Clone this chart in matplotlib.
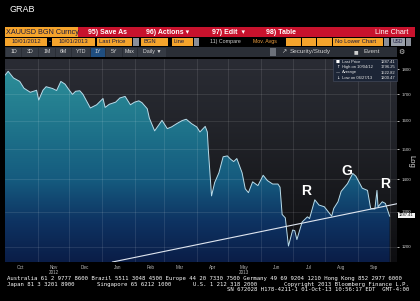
import matplotlib
matplotlib.use('Agg')
import matplotlib.pyplot as plt
import matplotlib.dates as mdates
from matplotlib.patches import Rectangle, PathPatch
from matplotlib.path import Path
from matplotlib.colors import LinearSegmentedColormap
from matplotlib.ticker import NullLocator
import numpy as np
import pandas as pd

plt.rcParams['font.family'] = ['Liberation Sans', 'DejaVu Sans']

# ---------------- data ----------------
dates = ['2012-10-01', '2012-10-04', '2012-10-09', '2012-10-15', '2012-10-19', '2012-10-25',
         '2012-10-31', '2012-11-02', '2012-11-06', '2012-11-09', '2012-11-15', '2012-11-19',
         '2012-11-23', '2012-11-27', '2012-11-30', '2012-12-04', '2012-12-07', '2012-12-11',
         '2012-12-14', '2012-12-18', '2012-12-21', '2012-12-27', '2013-01-02', '2013-01-04',
         '2013-01-08', '2013-01-14', '2013-01-18', '2013-01-23', '2013-01-28', '2013-02-01',
         '2013-02-05', '2013-02-08', '2013-02-13', '2013-02-15', '2013-02-20', '2013-02-27',
         '2013-03-04', '2013-03-08', '2013-03-13', '2013-03-18', '2013-03-22', '2013-03-27',
         '2013-04-01', '2013-04-04', '2013-04-09', '2013-04-11', '2013-04-12', '2013-04-15',
         '2013-04-18', '2013-04-22', '2013-04-26', '2013-04-30', '2013-05-03', '2013-05-06',
         '2013-05-09', '2013-05-14', '2013-05-17', '2013-05-20', '2013-05-24', '2013-05-29',
         '2013-06-03', '2013-06-07', '2013-06-12', '2013-06-17', '2013-06-19', '2013-06-21',
         '2013-06-24', '2013-06-27', '2013-07-01', '2013-07-03', '2013-07-05', '2013-07-10',
         '2013-07-15', '2013-07-17', '2013-07-22', '2013-07-26', '2013-07-31', '2013-08-07',
         '2013-08-09', '2013-08-13', '2013-08-16', '2013-08-22', '2013-08-27', '2013-08-30',
         '2013-09-05', '2013-09-10', '2013-09-13', '2013-09-17', '2013-09-19', '2013-09-20',
         '2013-09-24', '2013-09-27', '2013-10-01']
prices = [1776, 1792, 1765, 1751, 1724, 1708,
          1716, 1678, 1716, 1730, 1723, 1715,
          1751, 1740, 1722, 1700, 1712, 1714,
          1700, 1670, 1648, 1660, 1684, 1650,
          1662, 1670, 1686, 1692, 1660, 1670,
          1675, 1668, 1645, 1610, 1564, 1602,
          1572, 1578, 1590, 1601, 1606, 1590,
          1578, 1560, 1580, 1560, 1495, 1348,
          1390, 1421, 1474, 1477, 1466, 1458,
          1468, 1421, 1370, 1358, 1392, 1380,
          1413, 1396, 1385, 1385, 1375, 1292,
          1282, 1202, 1247, 1245, 1220, 1270,
          1285, 1280, 1336, 1320, 1315, 1287,
          1310, 1330, 1362, 1386, 1419, 1410,
          1372, 1365, 1310, 1308, 1365, 1315,
          1330, 1325, 1287]

trend_dates = ['2013-01-11', '2013-10-08']
trend_vals = [1159, 1324]

pattern_labels = ['R', 'G', 'R']
pattern_dates = ['2013-07-14', '2013-08-21', '2013-09-27']
pattern_vals = [1364, 1427, 1385]

y_ticks = [1200, 1300, 1400, 1500, 1600, 1700, 1800]
month_names = ['Oct', 'Nov\n2012', 'Dec', 'Jan', 'Feb', 'Mar', 'Apr', 'May\n2013', 'Jun', 'Jul', 'Aug', 'Sep']

legend_rows = [('Last Price', '1287.41'), ('High on 10/04/12', '1796.25'),
               ('Average', '1522.82'), ('Low on 06/27/13', '1200.47')]
last_price = 1287.41

# ---------------- helpers (pixel coords, y from top) ----------------
W, H = 420, 301
def fx(x):
    return x / W
def fy(y):
    return 1 - y / H

fig = plt.figure(figsize=(4.2, 3.01), dpi=100, facecolor='black')

def box(x0, y0, x1, y1, color, ec='none', lw=0, z=1):
    fig.add_artist(Rectangle((fx(x0), fy(y1)), (x1 - x0) / W, (y1 - y0) / H,
                             transform=fig.transFigure, facecolor=color, edgecolor=ec, lw=lw, zorder=z))

def txt(x, y, s, size=4.5, color='white', ha='left', **kw):
    fig.text(fx(x), fy(y), s, fontsize=size, color=color, ha=ha, va='center', **kw)

# ---------------- chart area ----------------
rect = [fx(5), fy(262), (397 - 5) / W, (262 - 59) / H]
bax = fig.add_axes(rect, zorder=0)
bax.set_axis_off()
ax = fig.add_axes(rect, zorder=1)
ax.set_facecolor('none')

d = pd.to_datetime(dates)
dn = mdates.date2num(d)
ax.set_yscale('log')
ax.set_xlim(mdates.date2num(pd.Timestamp('2012-10-01')), mdates.date2num(pd.Timestamp('2013-10-08')))
ax.set_ylim(1159, 1843)

grad = np.linspace(0, 1, 256).reshape(-1, 1)
bg_cmap = LinearSegmentedColormap.from_list('bg', ['#0d0d10', '#18191d', '#22242a', '#2a2c34'])
fill_cmap = LinearSegmentedColormap.from_list('fill', [(0, '#0a1d47'), (0.2, '#0e3362'), (0.4, '#155a7e'),
                                                       (0.6, '#1c6e88'), (0.9, '#2a8a96'), (1, '#2d8f9a')])
bax.imshow(grad, cmap=bg_cmap, origin='lower', extent=[0, 1, 0, 1], aspect='auto')
fill_img = bax.imshow(grad, cmap=fill_cmap, origin='lower', extent=[0, 1, 0, 1], aspect='auto')
bax.set_xlim(0, 1)
bax.set_ylim(0, 1)

verts = list(zip(dn, prices)) + [(dn[-1], 1000), (dn[0], 1000), (dn[0], prices[0])]
clip = PathPatch(Path(verts, closed=True), transform=ax.transData, facecolor='none', edgecolor='none')
fill_img.set_clip_path(clip)

ax.plot(dn, prices, color='#b9dcea', lw=0.7, zorder=3)
ax.plot(mdates.date2num(pd.to_datetime(trend_dates)), trend_vals, color='#dfe6f0', lw=0.8, zorder=4)

for lab, dt, v in zip(pattern_labels, pattern_dates, pattern_vals):
    ax.text(mdates.date2num(pd.Timestamp(dt)), v, lab, color='white', fontsize=10,
            fontweight='bold', ha='center', va='center', zorder=5)

# axes / grid
month_starts = pd.date_range('2012-11-01', '2013-10-01', freq='MS')
mid_months = pd.date_range('2012-10-01', '2013-09-01', freq='MS') + pd.Timedelta(days=15)
ax.set_xticks(mdates.date2num(month_starts))
ax.set_xticklabels([])
ax.set_xticks(mdates.date2num(mid_months), minor=True)
ax.set_xticklabels(month_names, minor=True, linespacing=0.95)
ax.tick_params(axis='x', which='both', length=0)
ax.tick_params(axis='x', which='minor', labelsize=3.3, labelcolor='#b8b8b8', pad=2)

ax.set_yticks(y_ticks)
ax.yaxis.set_minor_locator(NullLocator())
ax.set_yticklabels([str(v) for v in y_ticks])
ax.tick_params(axis='y', which='major', left=False, labelleft=False, right=True, labelright=True,
               length=1.5, width=0.5, color='white', labelsize=3.2, labelcolor='#d0d0d0', pad=1.5)
ax.grid(True, which='major', color='white', alpha=0.14, lw=0.5)
for s in ax.spines.values():
    s.set_visible(False)

# right axis extras
txt(410.5, 161, 'Log', size=5.5, color='#e0e0e0', ha='center', rotation=270)
box(398, 212.5, 415, 218, '#f2f2f2', z=5)
fig.text(fx(406.5), fy(215.3), f'{last_price:.2f}', fontsize=3, color='#111111',
         ha='center', va='center', zorder=6)

# legend box
box(333, 59, 397, 81, '#1c2536', ec='#4a5060', lw=0.4, z=5)
leg_y = [62, 67, 72.5, 77.8]
markers = ['\u25a0', '\u2191', '\u2014', '\u2193']
for (lab, val), yy, mk in zip(legend_rows, leg_y, markers):
    fig.text(fx(338), fy(yy), mk, fontsize=3, color='white', ha='center', va='center',
             family=['DejaVu Sans'], zorder=6)
    fig.text(fx(342), fy(yy), lab, fontsize=3, color='#e8e8e8', va='center', zorder=6)
    fig.text(fx(395), fy(yy), val, fontsize=3, color='#e8e8e8', ha='right', va='center', zorder=6)

# ---------------- top toolbar ----------------
txt(10, 10, 'GRAB', size=6.5)

box(5, 27, 78, 37, '#f5a42c')
txt(6, 32, 'XAUUSD BGN Curncy', size=5.2, color='#1b1b40')
box(78, 27, 415, 37, '#c8122d')
txt(88, 32, '95) Save As', size=5, weight='bold')
txt(146, 32, '96) Actions \u25be', size=5, weight='bold')
txt(212, 32, '97) Edit  \u25be', size=5, weight='bold')
txt(266, 32, '98) Table', size=5, weight='bold')
txt(408, 32, 'Line Chart', size=5.2, ha='right')

row2 = 41.7
box(5, 38, 47, 45.5, '#f5a42c')
txt(26, row2, '10/01/2012', size=4.2, color='#1b1b40', ha='center')
txt(49.5, row2, '-', size=4.2, ha='center')
box(52, 38, 95, 45.5, '#f5a42c')
txt(73.5, row2, '10/01/2013', size=4.2, color='#1b1b40', ha='center')
box(97, 38, 132, 45.5, '#f5a42c')
txt(99, row2, 'Last Price', size=4.2, color='#1b1b40')
box(133, 38, 139, 45.5, '#8a8f99')
box(141, 38, 168, 45.5, '#f5a42c')
txt(143, row2, 'BGN', size=4.2, color='#1b1b40')
box(172, 38, 193, 45.5, '#f5a42c')
txt(174, row2, 'Line', size=4.2, color='#1b1b40')
box(194, 38, 199, 45.5, '#8a8f99')
txt(210, row2, '11) Compare', size=3.8, color='#cfcfcf')
txt(253, row2, 'Mov. Avgs', size=3.8, color='#f0a040')
for x0 in (286, 301.5, 317):
    box(x0, 38, x0 + 14.5, 45.5, '#f5a42c')
box(333, 38, 383, 45.5, '#f5a42c')
txt(335, row2, 'No Lower Chart', size=4.2, color='#1b1b40')
box(384, 38, 389, 45.5, '#8a8f99')
box(391, 38, 405, 45.5, '#9aa0aa')
txt(392.5, row2, 'USD', size=3.6, color='#1b1b40')
box(406, 38, 411, 45.5, '#8a8f99')

row3 = 51.8
box(5, 47, 397, 57, '#2a2e36')
buttons = [('1D', 6, 21), ('3D', 22, 38), ('1M', 39, 55), ('6M', 56, 71), ('YTD', 72, 90),
           ('1Y', 91, 105), ('5Y', 106, 122), ('Max', 123, 137), ('Daily \u25bc', 138, 166)]
for lab, x0, x1 in buttons:
    box(x0, 47.5, x1, 56.5, '#1f4e80' if lab == '1Y' else '#353a43')
    txt((x0 + x1) / 2, row3, lab, size=3.8, color='#d8d8d8', ha='center')
box(270, 48, 276, 55.5, '#6c717a')
txt(284, row3, '\u2197', size=4.5, color='#cfcfcf', ha='center', family=['DejaVu Sans'])
txt(290, row3, 'Security/Study', size=4.6, color='#cfcfcf')
txt(356, row3, '\u25a0', size=3.5, color='#cfcfcf', ha='center', family=['DejaVu Sans'])
txt(363, row3, 'Event', size=4.6, color='#cfcfcf')
txt(401, row3, '\u2699', size=5, color='#cfcfcf', ha='center', family=['DejaVu Sans'])

# ---------------- footer ----------------
mono = ['DejaVu Sans Mono']
txt(7, 278.7, 'Australia 61 2 9777 8600 Brazil 5511 3048 4500 Europe 44 20 7330 7500 '
    'Germany 49 69 9204 1210 Hong Kong 852 2977 6000', size=4.1, family=mono)
txt(7, 284.1, 'Japan 81 3 3201 8900', size=4.1, family=mono)
txt(97, 284.1, 'Singapore 65 6212 1000', size=4.1, family=mono)
txt(193, 284.1, 'U.S. 1 212 318 2000', size=4.1, family=mono)
txt(409, 284.1, 'Copyright 2013 Bloomberg Finance L.P.', size=4.1, ha='right', family=mono)
txt(409, 289.5, 'SN 672028 H178-4211-1 01-Oct-13 10:56:17 EDT  GMT-4:00', size=4.1, ha='right', family=mono)

fig.savefig('out.png', dpi=100, facecolor='black')
